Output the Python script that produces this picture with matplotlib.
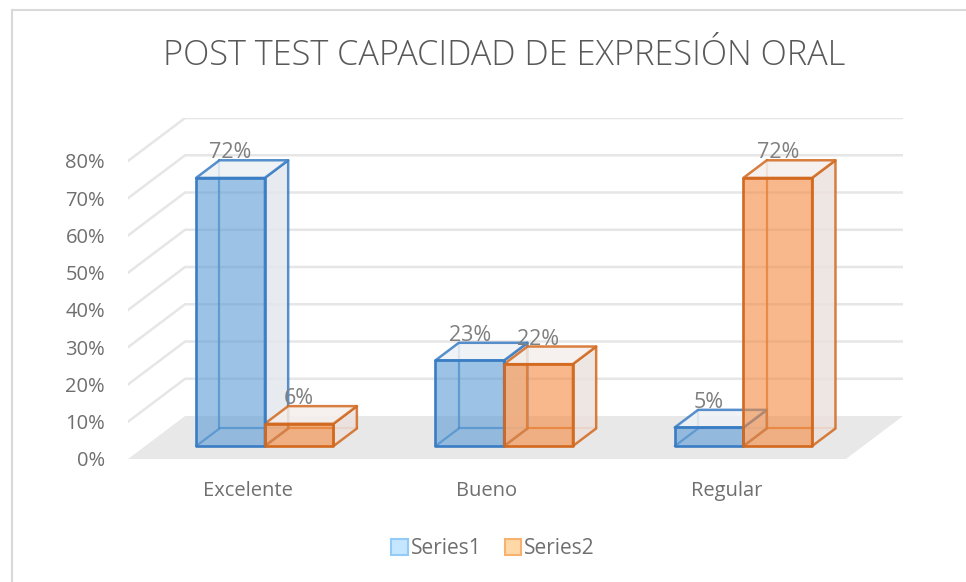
import matplotlib.pyplot as plt
from matplotlib.patches import Polygon, Patch
from matplotlib.lines import Line2D

plt.rcParams['font.family'] = ['Open Sans', 'DejaVu Sans']

# data
categories = ['Excelente', 'Bueno', 'Regular']
series1 = [72, 23, 5]
series2 = [6, 22, 72]
series_names = ['Series1', 'Series2']
yticks = [0, 10, 20, 30, 40, 50, 60, 70, 80]

# fake 3d geometry (in data units)
DX, DY = 0.2385, 11.54      # full floor depth offset
F0, F1 = 0.30, 0.71         # bar depth span (fraction of floor depth)
W = 0.287                   # bar width

fig = plt.figure(figsize=(9.66, 5.82), dpi=100)
W_PX, H_PX = 966, 582
ax = fig.add_axes([128 / W_PX, (H_PX - 459) / H_PX, (903 - 128) / W_PX, (459 - 118) / H_PX])
ax.set_xlim(-0.5, 2.5 + DX)
ax.set_ylim(0, 80 + DY)
for s in ax.spines.values():
    s.set_visible(False)

grid_c = '#e6e6e6'
for v in yticks[1:]:
    ax.plot([-0.5, -0.5 + DX, 2.5 + DX], [v, v + DY, v + DY], color=grid_c, lw=1.8, zorder=1)

# floor
ax.add_patch(Polygon([(-0.5, 0), (2.5, 0), (2.5 + DX, DY), (-0.5 + DX, DY)],
                     closed=True, facecolor='#e8e8e8', edgecolor='none', zorder=2))


def box(x0, h, face, edge, side, top):
    ox0, oy0 = F0 * DX, F0 * DY
    ox1, oy1 = F1 * DX, F1 * DY
    fl, fr = x0 + ox0, x0 + W + ox0
    bl, br = x0 + ox1, x0 + W + ox1
    # hidden edges
    for xs, ys in [([bl, bl], [oy1, oy1 + h]), ([bl, br], [oy1, oy1]), ([fl, bl], [oy0, oy1])]:
        ax.plot(xs, ys, color=edge, lw=1.6, alpha=0.75, zorder=3, solid_capstyle='round')
    # side and top faces
    ax.add_patch(Polygon([(fr, oy0), (br, oy1), (br, oy1 + h), (fr, oy0 + h)],
                         facecolor=side, edgecolor=edge, lw=1.8, alpha=0.85, zorder=3, joinstyle='round'))
    ax.add_patch(Polygon([(fl, oy0 + h), (fr, oy0 + h), (br, oy1 + h), (bl, oy1 + h)],
                         facecolor=top, edgecolor=edge, lw=1.8, alpha=0.85, zorder=3, joinstyle='round'))
    # front face
    ax.add_patch(Polygon([(fl, oy0), (fr, oy0), (fr, oy0 + h), (fl, oy0 + h)],
                         facecolor=face, edgecolor='none', alpha=0.6, zorder=4))
    ax.add_patch(Polygon([(fl, oy0), (fr, oy0), (fr, oy0 + h), (fl, oy0 + h)],
                         facecolor='none', edgecolor=edge, lw=1.9, zorder=5, joinstyle='round'))
    ax.text((fl + fr) / 2, oy0 + h + 6.7, f'{h}%', ha='center', va='center',
            fontsize=15.5, color='#7f7f7f', zorder=6)


styles = [
    dict(face='#5b9bd5', edge='#3a7dc4', side='#e3e8ed', top='#edf1f5'),
    dict(face='#f48a3e', edge='#d2691f', side='#ece2de', top='#f5efec'),
]
for i in range(len(categories)):
    box(i - W, series1[i], **styles[0])
    box(i, series2[i], **styles[1])

ax.set_yticks(yticks)
ax.set_yticklabels([f'{v}%' for v in yticks])
ax.set_xticks(range(len(categories)))
ax.set_xticklabels(categories)
ax.tick_params(axis='y', length=0, pad=16.5, labelsize=14.5, labelcolor='#6f6f6f')
ax.tick_params(axis='x', length=0, pad=16, labelsize=14.5, labelcolor='#6f6f6f')

fig.text(504 / W_PX, 1 - 56 / H_PX, 'POST TEST CAPACIDAD DE EXPRESIÓN ORAL',
         ha='center', va='center', fontsize=24.7, color='#595959', fontweight='light')

handles = [Patch(facecolor='#c5e6ff', edgecolor='#92cbf8', lw=1.5),
           Patch(facecolor='#ffd8a8', edgecolor='#f6b26e', lw=1.5)]
fig.legend(handles, series_names, loc='center', bbox_to_anchor=(493 / W_PX, 1 - 549 / H_PX),
           ncol=2, frameon=False, fontsize=15, labelcolor='#6f6f6f',
           handlelength=0.8, handleheight=0.8, handletextpad=0.15, columnspacing=1.1)

# chart area border
fig.add_artist(Line2D([12 / W_PX, 12 / W_PX], [0, 1 - 10 / H_PX], color='#d9d9d9', lw=1.5))
fig.add_artist(Line2D([12 / W_PX, 1], [1 - 10 / H_PX, 1 - 10 / H_PX], color='#d9d9d9', lw=1.5))

fig.savefig('out.png', dpi=100)
